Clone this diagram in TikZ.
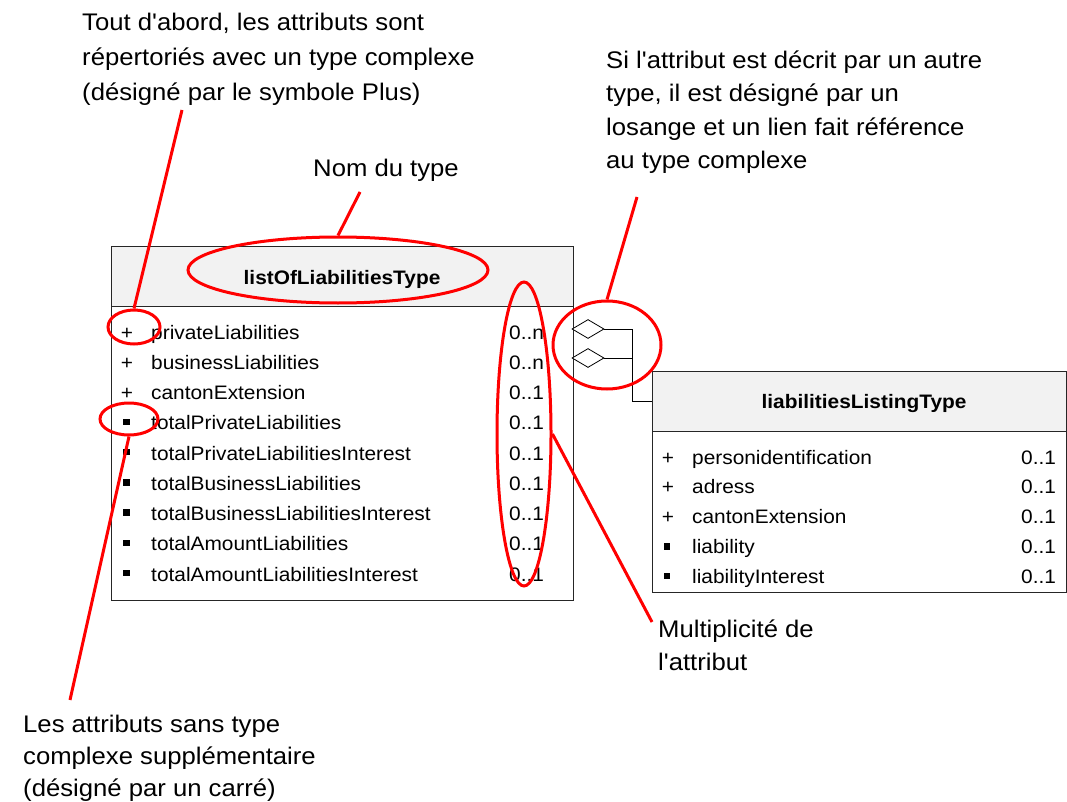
\documentclass[tikz,border=0pt]{standalone}
\usepackage{fontspec}
\setmainfont[FakeStretch=1.07, Ligatures=TeXOff]{Liberation Sans}
\usetikzlibrary{shapes.geometric}
\definecolor{hdr}{HTML}{F2F2F2}
\begin{document}
\begin{tikzpicture}[x=1pt,y=-1pt,
  boxframe/.style={draw=black!85, line width=1pt, anchor=north west, inner sep=0pt},
  boxtxt/.style={anchor=base west, inner sep=0pt, font=\fontsize{19.5}{22}\selectfont},
  titletxt/.style={anchor=base, inner sep=0pt, font=\fontsize{19.5}{22}\selectfont\bfseries},
  plussym/.style={anchor=base, inner sep=0pt, font=\fontsize{19.5}{22}\selectfont},
  sqsym/.style={fill=black, inner sep=0pt, minimum size=6.5pt},
  ann/.style={anchor=north west, inner sep=0pt, align=left},
  redell/.style={draw=red, line width=3pt, ellipse, inner sep=0pt},
  redline/.style={draw=red, line width=3pt},
  dia/.style={draw=black, line width=0.8pt, fill=white, diamond, inner sep=0pt, minimum width=32pt, minimum height=19pt},
  conn/.style={draw=black, line width=0.9pt}]
\useasboundingbox (0,0) rectangle (1067,802);

% left class box
\node[boxframe, fill=hdr, minimum width=462.5pt, minimum height=60pt] (Lhead) at (110.5,246) {};
\node[boxframe, minimum width=462.5pt, minimum height=294pt] (Lbody) at (110.5,306) {};
\node[titletxt] (Ltitle) at (342,284) {listOfLiabilitiesType};
\foreach \n/\m [count=\i] in {privateLiabilities/0..n, businessLiabilities/0..n, cantonExtension/0..1,
  totalPrivateLiabilities/0..1, totalPrivateLiabilitiesInterest/0..1, totalBusinessLiabilities/0..1,
  totalBusinessLiabilitiesInterest/0..1, totalAmountLiabilities/0..1, totalAmountLiabilitiesInterest/0..1}{
  \node[boxtxt] (ln\i) at (151,{339+(\i-1)*30.25}) {\n};
  \node[boxtxt] (lm\i) at (509,{339+(\i-1)*30.25}) {\m};
}
\foreach \i in {1,2,3}{\node[plussym] (ls\i) at (127,{339+(\i-1)*30.25}) {+};}
\foreach \i in {4,...,9}{\node[sqsym] (ls\i) at (126.5,{339+(\i-1)*30.25-8}) {};}

% right class box
\node[boxframe, fill=hdr, minimum width=414pt, minimum height=60pt] (Rhead) at (652,371) {};
\node[boxframe, minimum width=414pt, minimum height=161pt] (Rbody) at (652,431) {};
\node[titletxt] (Rtitle) at (864,408) {liabilitiesListingType};
\foreach \n/\m [count=\i] in {personidentification/0..1, adress/0..1, cantonExtension/0..1,
  liability/0..1, liabilityInterest/0..1}{
  \node[boxtxt] (rn\i) at (692,{464+(\i-1)*29.75}) {\n};
  \node[boxtxt] (rm\i) at (1021,{464+(\i-1)*29.75}) {\m};
}
\foreach \i in {1,2,3}{\node[plussym] (rs\i) at (668,{464+(\i-1)*29.75}) {+};}
\foreach \i in {4,5}{\node[sqsym] (rs\i) at (667,{464+(\i-1)*29.75-7}) {};}

% aggregation links
\coordinate (jx) at (632,0);
\node[dia] (d1) at (588,329) {};
\node[dia] (d2) at (588,358) {};
\path[conn] (d1.east) -- (d1.east -| jx) |- (Rhead.west);
\path[conn] (d2.east) -- (d2.east -| jx);

% red highlight ellipses
\node[redell, minimum width=300pt, minimum height=66pt] (e1) at (338,270) {};
\node[redell, minimum width=52pt, minimum height=34pt] (e2) at (134,327) {};
\node[redell, minimum width=58pt, minimum height=32pt] (e3) at (129,419) {};
\node[redell, minimum width=54pt, minimum height=304pt] (e4) at (524,434) {};
\node[redell, minimum width=108pt, minimum height=88pt] (e5) at (607,345) {};

% annotations
\node[ann, font=\fontsize{24}{35}\selectfont] (a1) at (82,6.7)
  {\rule{0pt}{24pt}Tout d'abord, les attributs sont\\répertoriés avec un type complexe\\(désigné par le symbole Plus)};
\node[anchor=base, inner sep=0pt, font=\fontsize{24}{34}\selectfont] (a2) at (386,177) {Nom du type};
\node[ann, font=\fontsize{24}{33.5}\selectfont] (a3) at (606,44)
  {\rule{0pt}{24pt}Si l'attribut est décrit par un autre\\type, il est désigné par un\\losange et un lien fait référence\\au type complexe};
\node[ann, font=\fontsize{24}{33}\selectfont] (a4) at (658,613)
  {\rule{0pt}{24pt}Multiplicité de\\l'attribut};
\node[ann, font=\fontsize{24}{32}\selectfont] (a5) at (23,708)
  {\rule{0pt}{24pt}Les attributs sans type\\complexe supplémentaire\\(désigné par un carré)};

% red pointer lines
\coordinate (p1) at (182,110);
\coordinate (p2) at (360,192);
\coordinate (p3) at (637,197);
\coordinate (p4) at (652,622);
\coordinate (p5) at (70,700);
\path[redline] (p1) -- (e2.north);
\path[redline] (p2) -- (e1.north);
\path[redline] (p3) -- (e5.north);
\path[redline] (e4.east) -- (p4);
\path[redline] (e3.south) -- (p5);
\end{tikzpicture}
\end{document}
